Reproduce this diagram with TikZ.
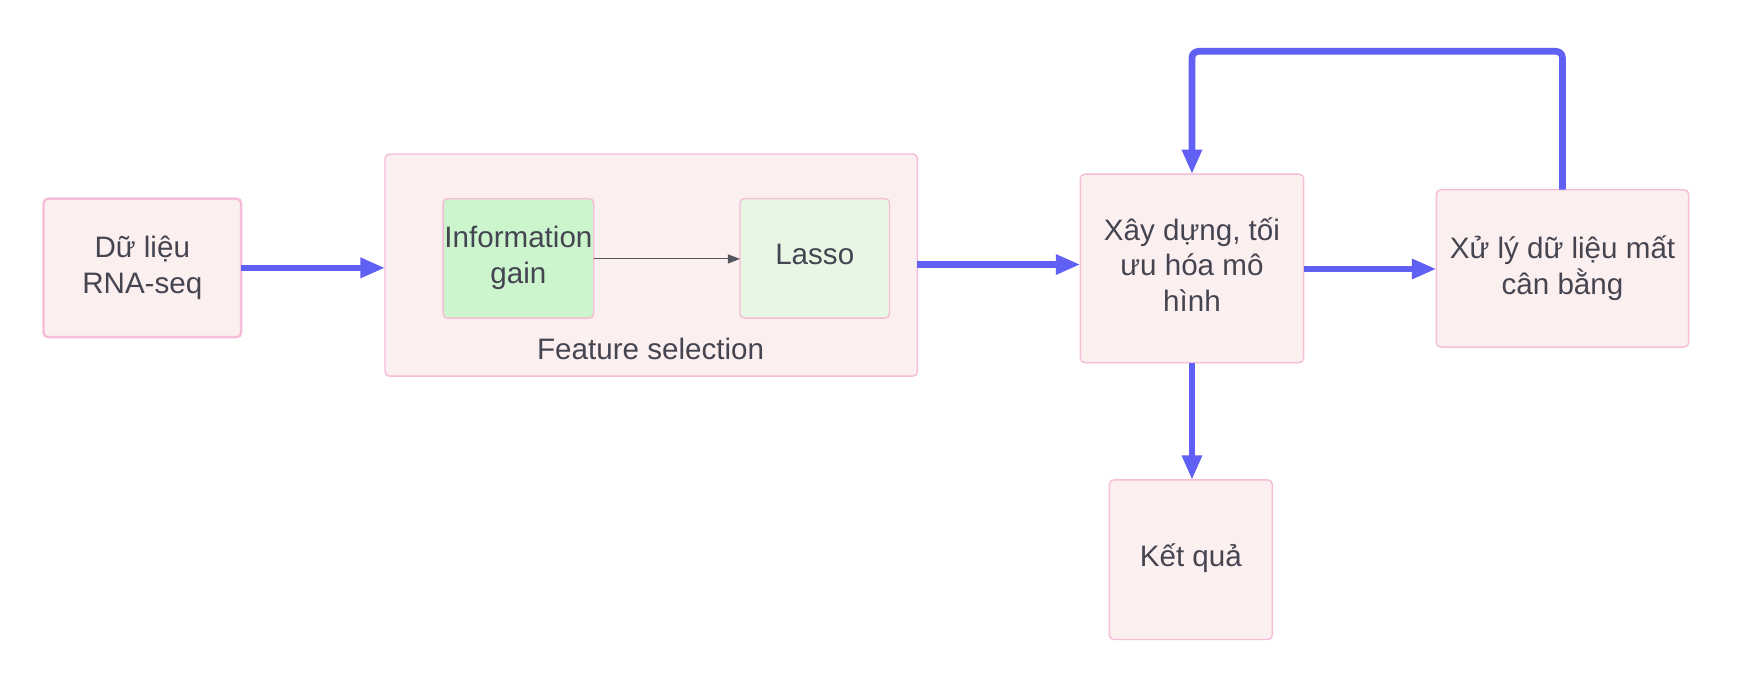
\documentclass[tikz,border=0pt]{standalone}
\usepackage{fontspec}
\setmainfont{Liberation Sans}
\usetikzlibrary{arrows.meta}
\definecolor{boxfill}{HTML}{FCEFEF}
\definecolor{boxline}{HTML}{F5BDD7}
\definecolor{igfill}{HTML}{CCF5CD}
\definecolor{lafill}{HTML}{E8F7E3}
\definecolor{txt}{HTML}{454552}
\definecolor{flow}{HTML}{6060F5}
\definecolor{thin}{HTML}{555560}
\begin{document}
\begin{tikzpicture}[x=0.5581pt,y=-0.5581pt,
  box/.style={draw=boxline,fill=boxfill,rounded corners=2.2pt,line width=0.7pt,inner sep=0pt},
  lbl/.style={text=txt,font=\fontsize{14.8}{17.9}\selectfont,align=center},
  flowarrow/.style={draw=flow,line width=3.35pt,-{Triangle[length=12.3pt,width=9.5pt]}},
  thinarrow/.style={draw=thin,line width=0.55pt,-{Triangle[length=6pt,width=4.5pt]}}]
\useasboundingbox (0,0) rectangle (1568,626.3);
% boxes
\draw[box,line width=1.2pt] (39,178) rectangle (216,302);
\node[lbl] (d) at (127.5,240) {Dữ liệu\\RNA-seq};
\coordinate (dR) at (216,240);
\draw[box] (345,138) rectangle (822,337);
\node[lbl] (fs) at (583,313) {Feature selection};
\coordinate (fL) at (345,240);
\coordinate (fR) at (822,237);
\draw[box,fill=igfill] (397,178) rectangle (532,285);
\node[lbl] (ig) at (464.5,231) {Information\\gain};
\draw[box,fill=lafill] (663,178) rectangle (797,285);
\node[lbl] (la) at (730,228) {Lasso};
\coordinate (igR) at (532,232);
\coordinate (laL) at (663,232);
\draw[box] (968,156) rectangle (1168,325);
\node[lbl] (x) at (1068,237) {Xây dựng, tối\\ưu hóa mô\\hình};
\coordinate (xL) at (968,237);
\coordinate (xR) at (1168,241);
\coordinate (xT) at (1068,156);
\coordinate (xB) at (1068,325);
\draw[box] (1287,170) rectangle (1513,311);
\node[lbl] (p) at (1400,240.5) {Xử lý dữ liệu mất\\cân bằng};
\coordinate (pL) at (1287,241);
\coordinate (pT) at (1400,170);
\draw[box] (994,430) rectangle (1140,573);
\node[lbl] (k) at (1067,500) {Kết quả};
\coordinate (kT) at (1068,430);
% connectors
\draw[flowarrow] (dR) -- (fL);
\draw[thinarrow] (igR) -- (laL);
\draw[flowarrow] (fR) -- (xL);
\draw[flowarrow] (xR) -- (pL);
\draw[flowarrow] (xB) -- (kT);
\draw[flowarrow,rounded corners=3.3pt] (pT) -- (1400,46) -- (1068,46) -- (xT);
\end{tikzpicture}
\end{document}
